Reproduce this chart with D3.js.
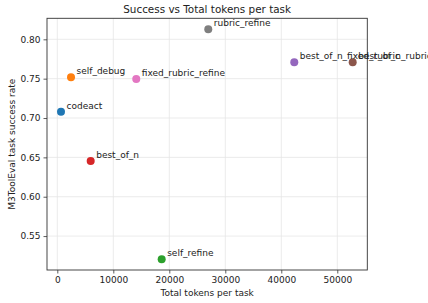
<!DOCTYPE html>
<html>
<head>
<meta charset="utf-8">
<script src="https://cdn.jsdelivr.net/npm/d3@7"></script>
<style>
  body { margin: 0; background: #fff; }
  text { font-family: "DejaVu Sans", sans-serif; fill: #222; }
</style>
</head>
<body>
<svg id="chart"></svg>
<script>
// data
const methods = ["codeact", "self_debug", "self_refine", "best_of_n",
    "best_of_n_fixed_rubric", "best_of_n_rubric", "fixed_rubric_refine", "rubric_refine"];
const tokens = [660, 2450, 18640, 5960, 42320, 52750, 14100, 26960];
const successRate = [0.708, 0.7517, 0.5205, 0.6454, 0.7708, 0.7708, 0.7495, 0.8127];
const colors = ["#1f77b4", "#ff7f0e", "#2ca02c", "#d62728", "#9467bd", "#8c564b", "#e377c2", "#7f7f7f"];
const xTicks = [0, 10000, 20000, 30000, 40000, 50000];
const yTicks = [0.55, 0.60, 0.65, 0.70, 0.75, 0.80];

const width = 428;
const height = 303;
const margin = { top: 18.3, right: 60.7, bottom: 33, left: 47 };

const svg = d3.select("#chart")
    .attr("width", width)
    .attr("height", height);

const x = d3.scaleLinear()
    .domain([-1840, 55360])
    .range([margin.left, width - margin.right]);

const y = d3.scaleLinear()
    .domain([0.5069, 0.8267])
    .range([height - margin.bottom, margin.top]);

// grid
svg.append("g")
    .selectAll("line.vg")
    .data(xTicks)
    .enter()
    .append("line")
    .attr("x1", d => x(d)).attr("x2", d => x(d))
    .attr("y1", margin.top).attr("y2", height - margin.bottom)
    .attr("stroke", "#e6e6e6").attr("stroke-width", 0.8);

svg.append("g")
    .selectAll("line.hg")
    .data(yTicks)
    .enter()
    .append("line")
    .attr("x1", margin.left).attr("x2", width - margin.right)
    .attr("y1", d => y(d)).attr("y2", d => y(d))
    .attr("stroke", "#e6e6e6").attr("stroke-width", 0.8);

// axes
const xAxis = svg.append("g")
    .attr("transform", `translate(0,${height - margin.bottom})`)
    .call(d3.axisBottom(x).tickValues(xTicks).tickFormat(d3.format("d")).tickSize(3.5).tickPadding(3));

const yAxis = svg.append("g")
    .attr("transform", `translate(${margin.left},0)`)
    .call(d3.axisLeft(y).tickValues(yTicks).tickFormat(d3.format(".2f")).tickSize(3.5).tickPadding(3));

[xAxis, yAxis].forEach(a => {
    a.select(".domain").remove();
    a.selectAll("line").attr("stroke", "#333").attr("stroke-width", 0.8);
    a.selectAll("text").style("font-size", "9px").style("font-family", "DejaVu Sans, sans-serif").attr("fill", "#222");
});

// frame
svg.append("rect")
    .attr("x", margin.left)
    .attr("y", margin.top)
    .attr("width", width - margin.left - margin.right)
    .attr("height", height - margin.top - margin.bottom)
    .attr("fill", "none")
    .attr("stroke", "#333")
    .attr("stroke-width", 0.9);

// points
const pts = methods.map((m, i) => ({ name: m, t: tokens[i], s: successRate[i], c: colors[i] }));

svg.selectAll(".dot")
    .data(pts)
    .enter()
    .append("circle")
    .attr("class", "dot")
    .attr("cx", d => x(d.t))
    .attr("cy", d => y(d.s))
    .attr("r", 4)
    .attr("fill", d => d.c);

svg.selectAll(".lbl")
    .data(pts)
    .enter()
    .append("text")
    .attr("class", "lbl")
    .attr("x", d => x(d.t) + 5.5)
    .attr("y", d => y(d.s) - 3)
    .style("font-size", "9px")
    .text(d => d.name);

// titles
svg.append("text")
    .attr("x", (margin.left + width - margin.right) / 2)
    .attr("y", 13)
    .attr("text-anchor", "middle")
    .style("font-size", "10.4px")
    .text("Success vs Total tokens per task");

svg.append("text")
    .attr("x", (margin.left + width - margin.right) / 2)
    .attr("y", 296)
    .attr("text-anchor", "middle")
    .style("font-size", "9px")
    .text("Total tokens per task");

svg.append("text")
    .attr("transform", `translate(15,${(margin.top + height - margin.bottom) / 2}) rotate(-90)`)
    .attr("text-anchor", "middle")
    .style("font-size", "9px")
    .text("M3ToolEval task success rate");
</script>
</body>
</html>
